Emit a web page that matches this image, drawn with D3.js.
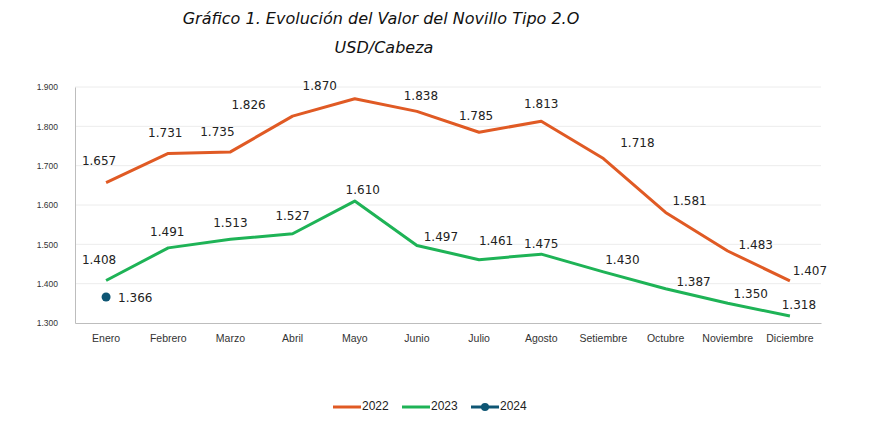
<!DOCTYPE html>
<html>
<head>
<meta charset="utf-8">
<script src="https://cdn.jsdelivr.net/npm/d3@7"></script>
<style>
  body { margin: 0; background: #fff; }
  svg { display: block; }
</style>
</head>
<body>
<svg id="chart"></svg>
<script>
// Data
const months = ['Enero', 'Febrero', 'Marzo', 'Abril', 'Mayo', 'Junio', 'Julio', 'Agosto',
  'Setiembre', 'Octubre', 'Noviembre', 'Diciembre'];
const values2022 = [1.657, 1.731, 1.735, 1.826, 1.870, 1.838, 1.785, 1.813, 1.718, 1.581, 1.483, 1.407];
const values2023 = [1.408, 1.491, 1.513, 1.527, 1.610, 1.497, 1.461, 1.475, 1.430, 1.387, 1.350, 1.318];
const values2024 = [1.366];
const yTicks = [1.3, 1.4, 1.5, 1.6, 1.7, 1.8, 1.9];

// Label offsets (pixels from the point)
const offsets2022 = [[-7, -21], [-3, -20], [-13, -19], [-44, -11], [-35, -12], [4, -15],
  [-3, -16], [0, -17], [34, -15], [24, -11], [28, -6], [20, -9]];
const offsets2023 = [[-7, -20], [-1, -15], [0, -16], [0, -17], [8, -11], [24, -8],
  [17, -18], [0, -10], [19, -11], [28, -6], [23, -9], [9, -10]];

const series = [
  { name: '2022', values: values2022, color: '#E05A24', offsets: offsets2022 },
  { name: '2023', values: values2023, color: '#1EB356', offsets: offsets2023 },
  { name: '2024', values: values2024, color: '#0E5674', dot: true }
];

const fmt = v => v.toFixed(3);

const width = 871, height = 427;
const margin = { top: 87, right: 50, bottom: 104, left: 75 };
const innerW = width - margin.left - margin.right;
const innerH = height - margin.top - margin.bottom;

const svg = d3.select('#chart')
    .attr('width', width)
    .attr('height', height);

// Title
svg.append('text')
    .attr('x', 381)
    .attr('y', 24)
    .attr('text-anchor', 'middle')
    .attr('font-family', 'DejaVu Sans')
    .attr('font-style', 'italic')
    .attr('font-size', 16)
    .attr('fill', '#111')
    .text('Gráfico 1. Evolución del Valor del Novillo Tipo 2.O');

svg.append('text')
    .attr('x', 384)
    .attr('y', 53)
    .attr('text-anchor', 'middle')
    .attr('font-family', 'DejaVu Sans')
    .attr('font-style', 'italic')
    .attr('font-size', 16)
    .attr('fill', '#111')
    .text('USD/Cabeza');

const chart = svg.append('g')
    .attr('transform', `translate(${margin.left},${margin.top})`);

const x = d3.scaleBand()
    .domain(months)
    .range([0, innerW]);

const y = d3.scaleLinear()
    .domain([1.3, 1.9])
    .range([innerH, 0]);

const xc = d => x(d) + x.bandwidth() / 2;

// Gridlines
chart.selectAll('.grid')
    .data(yTicks.slice(1))
  .join('line')
    .attr('class', 'grid')
    .attr('x1', 0)
    .attr('x2', innerW)
    .attr('y1', d => y(d))
    .attr('y2', d => y(d))
    .attr('stroke', '#ececec')
    .attr('stroke-width', 1);

// Y axis
const yAxis = chart.append('g')
    .call(d3.axisLeft(y).tickValues(yTicks).tickFormat(fmt).tickSize(0).tickPadding(17));
yAxis.select('.domain').attr('stroke', '#bdbdbd');
yAxis.selectAll('text')
    .attr('font-family', 'Liberation Sans')
    .attr('font-size', 8.5)
    .attr('fill', '#333');

// X axis
const xAxis = chart.append('g')
    .attr('transform', `translate(0,${innerH})`)
    .call(d3.axisBottom(x).tickSize(0).tickPadding(12));
xAxis.select('.domain').attr('stroke', '#bdbdbd');
xAxis.selectAll('text')
    .attr('font-family', 'Liberation Sans')
    .attr('font-size', 10.5)
    .attr('fill', '#333');

const line = d3.line()
    .x((d, i) => xc(months[i]))
    .y(d => y(d));

series.forEach(s => {
  if (!s.dot) {
    chart.append('path')
        .datum(s.values)
        .attr('fill', 'none')
        .attr('stroke', s.color)
        .attr('stroke-width', 3)
        .attr('stroke-linejoin', 'round')
        .attr('d', line);

    chart.selectAll(`.lbl${s.name}`)
        .data(s.values)
      .join('text')
        .attr('class', `lbl${s.name}`)
        .attr('x', (d, i) => xc(months[i]) + s.offsets[i][0])
        .attr('y', (d, i) => y(d) + s.offsets[i][1])
        .attr('text-anchor', 'middle')
        .attr('dominant-baseline', 'middle')
        .attr('font-family', 'DejaVu Sans')
        .attr('font-size', 12)
        .attr('fill', '#222')
        .text(fmt);
  } else {
    chart.selectAll('.dot2024')
        .data(s.values)
      .join('circle')
        .attr('class', 'dot2024')
        .attr('cx', (d, i) => xc(months[i]))
        .attr('cy', d => y(d))
        .attr('r', 4.5)
        .attr('fill', s.color);

    chart.selectAll('.lbl2024')
        .data(s.values)
      .join('text')
        .attr('class', 'lbl2024')
        .attr('x', (d, i) => xc(months[i]) + 12)
        .attr('y', d => y(d) + 1)
        .attr('dominant-baseline', 'middle')
        .attr('font-family', 'DejaVu Sans')
        .attr('font-size', 12)
        .attr('fill', '#222')
        .text(fmt);
  }
});

// Legend
const legend = svg.append('g')
    .attr('transform', 'translate(333,407)');

const items = legend.selectAll('g')
    .data(series)
  .join('g')
    .attr('transform', (d, i) => `translate(${i * 69},0)`);

items.append('line')
    .attr('x1', 0)
    .attr('x2', 28)
    .attr('stroke', d => d.color)
    .attr('stroke-width', 3);

items.filter(d => d.dot).append('circle')
    .attr('cx', 14)
    .attr('r', 4)
    .attr('fill', d => d.color);

items.append('text')
    .attr('x', 29)
    .attr('dominant-baseline', 'middle')
    .attr('font-family', 'Liberation Sans')
    .attr('font-size', 12)
    .attr('fill', '#222')
    .text(d => d.name);
</script>
</body>
</html>
